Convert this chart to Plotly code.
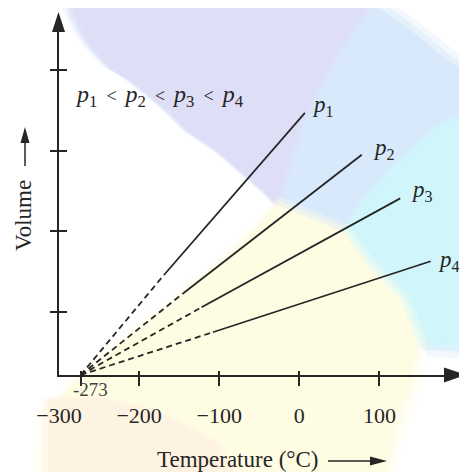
import plotly.graph_objects as go

# ---------------- data ----------------
T_ABS_ZERO = -273.0          # all isobars meet here at zero volume
V_ABS_ZERO = 0.0
series_names = ["p<sub>1</sub>", "p<sub>2</sub>", "p<sub>3</sub>", "p<sub>4</sub>"]
t_solid_start = [-169, -144, -122, -108]   # °C where measured (solid) part begins
v_solid_start = [1.24, 1.02, 0.84, 0.53]
t_solid_end = [7, 78, 126, 164]            # °C where solid part ends
v_solid_end = [3.25, 2.73, 2.19, 1.41]

x_tick_vals = [-273, -200, -100, 0, 100]
x_label_vals = [-300, -200, -100, 0, 100]
x_label_text = ["\u2212300", "\u2212200", "\u2212100", "0", "100"]
y_tick_vals = [0.78, 1.78, 2.78, 3.78]

# ---------------- layout constants ----------------
OFF = 8                      # page body margin
W, H = 467 - OFF, 472 - OFF
FONT = "Liberation Serif, Times New Roman, serif"
INK = "#262626"
X_RANGE = [-300, 184.4]
Y_RANGE = [0, 4.277]


def fx(x):
    return (x - OFF) / W


def fy(y):
    return 1 - (y - OFF) / H


X_DOM = [fx(59), fx(447)]
Y_DOM = [fy(375), fy(30)]

label_shift = [(5, 7), (9, 6), (9, 7), (5, 0)]


def poly(pts):
    return "M " + " L ".join(f"{fx(x):.4f},{fy(y):.4f}" for x, y in pts) + " Z"


def scaled(pts, s):
    cx = sum(p[0] for p in pts) / len(pts)
    cy = sum(p[1] for p in pts) / len(pts)
    return [(cx + (x - cx) * s, cy + (y - cy) * s) for x, y in pts]


fig = go.Figure()

for i, name in enumerate(series_names):
    fig.add_trace(go.Scatter(
        x=[T_ABS_ZERO, t_solid_start[i]], y=[V_ABS_ZERO, v_solid_start[i]],
        mode="lines", line=dict(color=INK, width=1.8, dash="6px,4px"),
        showlegend=False, hoverinfo="skip"))
    fig.add_trace(go.Scatter(
        x=[t_solid_start[i], t_solid_end[i]], y=[v_solid_start[i], v_solid_end[i]],
        mode="lines", line=dict(color=INK, width=1.8),
        showlegend=False, hoverinfo="skip"))

# empty traces to register the overlay tick axes
fig.add_trace(go.Scatter(x=[], y=[], xaxis="x2", yaxis="y", showlegend=False))
fig.add_trace(go.Scatter(x=[], y=[], xaxis="x3", yaxis="y", showlegend=False))
fig.add_trace(go.Scatter(x=[], y=[], xaxis="x", yaxis="y2", showlegend=False))

# ---------------- background decoration ----------------
inner_edge = [(70, 0), (77, 20), (87, 40), (97, 53), (113, 70), (133, 82), (150, 96),
              (167, 110), (187, 130), (217, 150), (240, 170), (263, 190), (277, 205)]
blue_pts = inner_edge + [(343, 232), (367, 265), (400, 299), (417, 342), (470, 345),
                         (470, 72), (447, 60), (423, 40), (397, 20), (367, 0)]
lav_pts = inner_edge + [(285, 170), (300, 120), (325, 70), (350, 30), (372, 0)]
cyan_pts = [(470, 110), (470, 345), (417, 342), (400, 299), (367, 265), (343, 232),
            (360, 205), (395, 165), (435, 130)]
yel_pts = [(277, 205), (343, 232), (367, 265), (400, 299), (417, 342), (410, 385),
           (395, 430), (385, 475), (48, 475), (50, 410), (80, 378), (125, 340),
           (170, 305), (215, 268), (250, 235)]
peach_pts = [(48, 475), (48, 400), (100, 398), (160, 412), (215, 442), (235, 475)]

shapes = []
for pts, col in [(blue_pts, (216, 233, 251)), (lav_pts, (223, 222, 247)),
                 (cyan_pts, (208, 246, 252)), (yel_pts, (255, 252, 228)),
                 (peach_pts, (254, 243, 226))]:
    for s, a in [(1.07, 0.3), (1.035, 0.45), (1.0, 1.0)]:
        shapes.append(dict(type="path", path=poly(scaled(pts, s)),
                           xref="paper", yref="paper",
                           fillcolor=f"rgba({col[0]},{col[1]},{col[2]},{a})",
                           line=dict(width=0), layer="below"))

# axis arrow heads
shapes.append(dict(type="path", path=poly([(444, 367.5), (466, 375), (444, 382.5)]),
                   xref="paper", yref="paper", fillcolor=INK, line=dict(width=0)))
shapes.append(dict(type="path", path=poly([(52, 32), (58.5, 12), (65, 32)]),
                   xref="paper", yref="paper", fillcolor=INK, line=dict(width=0)))
# title arrows
shapes.append(dict(type="line", x0=fx(328), x1=fx(372), y0=fy(461), y1=fy(461),
                   xref="paper", yref="paper", line=dict(color=INK, width=1.5)))
shapes.append(dict(type="path", path=poly([(370, 456.5), (387, 461), (370, 465.5)]),
                   xref="paper", yref="paper", fillcolor=INK, line=dict(width=0)))
shapes.append(dict(type="line", x0=fx(25), x1=fx(25), y0=fy(166), y1=fy(140),
                   xref="paper", yref="paper", line=dict(color=INK, width=1.5)))
shapes.append(dict(type="path", path=poly([(20.5, 143), (25, 127), (29.5, 143)]),
                   xref="paper", yref="paper", fillcolor=INK, line=dict(width=0)))

# ---------------- annotations ----------------
ann = []
for i, name in enumerate(series_names):
    dx, dy = label_shift[i]
    ann.append(dict(x=t_solid_end[i], y=v_solid_end[i], xref="x", yref="y",
                    text="<i>p</i>" + name[1:], showarrow=False,
                    xanchor="left", yanchor="middle", xshift=dx, yshift=dy,
                    font=dict(family=FONT, size=23, color=INK)))

lt = "<span style='font-size:18px'>\u2002<\u2002</span>"
ann.append(dict(x=fx(73), y=fy(96), xref="paper", yref="paper",
                text=lt.join("<i>p</i>" + n[1:] for n in series_names),
                showarrow=False, xanchor="left", yanchor="middle",
                font=dict(family=FONT, size=24, color=INK)))
ann.append(dict(x=fx(90), y=fy(389), xref="paper", yref="paper", text="-273",
                showarrow=False, xanchor="center", yanchor="middle",
                font=dict(family=FONT, size=19, color="#444")))
ann.append(dict(x=fx(237), y=fy(459), xref="paper", yref="paper",
                text="Temperature (°C)", showarrow=False, xanchor="center",
                yanchor="middle", font=dict(family=FONT, size=23, color=INK)))
ann.append(dict(x=fx(23), y=fy(216), xref="paper", yref="paper",
                text="Volume", textangle=-90, showarrow=False, xanchor="center",
                yanchor="middle", font=dict(family=FONT, size=23, color=INK)))

fig.update_layout(
    width=W, height=H, margin=dict(l=0, r=0, t=0, b=0, autoexpand=False),
    paper_bgcolor="white", plot_bgcolor="rgba(0,0,0,0)",
    showlegend=False, shapes=shapes, annotations=ann,
    xaxis=dict(range=X_RANGE, domain=X_DOM, showgrid=False, zeroline=False,
               showline=True, linecolor=INK, linewidth=2, automargin=False,
               tickmode="array", tickvals=x_label_vals, ticktext=x_label_text,
               ticks="", ticklabelstandoff=20,
               tickfont=dict(family=FONT, size=22, color=INK), fixedrange=True),
    xaxis2=dict(range=X_RANGE, domain=X_DOM, overlaying="x", anchor="y",
                showgrid=False, zeroline=False, showline=False, automargin=False,
                tickmode="array", tickvals=x_tick_vals, ticks="outside",
                ticklen=10, tickwidth=2, tickcolor=INK, showticklabels=False),
    xaxis3=dict(range=X_RANGE, domain=X_DOM, overlaying="x", anchor="y",
                showgrid=False, zeroline=False, showline=False, automargin=False,
                tickmode="array", tickvals=x_tick_vals, ticks="inside",
                ticklen=4, tickwidth=2, tickcolor=INK, showticklabels=False),
    yaxis=dict(range=Y_RANGE, domain=Y_DOM, showgrid=False, zeroline=False,
               showline=True, linecolor=INK, linewidth=2, automargin=False,
               tickmode="array", tickvals=y_tick_vals, ticks="outside",
               ticklen=7, tickwidth=2, tickcolor=INK, showticklabels=False,
               fixedrange=True),
    yaxis2=dict(range=Y_RANGE, domain=Y_DOM, overlaying="y", anchor="x",
                showgrid=False, zeroline=False, showline=False, automargin=False,
                tickmode="array", tickvals=y_tick_vals, ticks="inside",
                ticklen=8, tickwidth=2, tickcolor=INK, showticklabels=False),
)

fig.write_html("out.html")
